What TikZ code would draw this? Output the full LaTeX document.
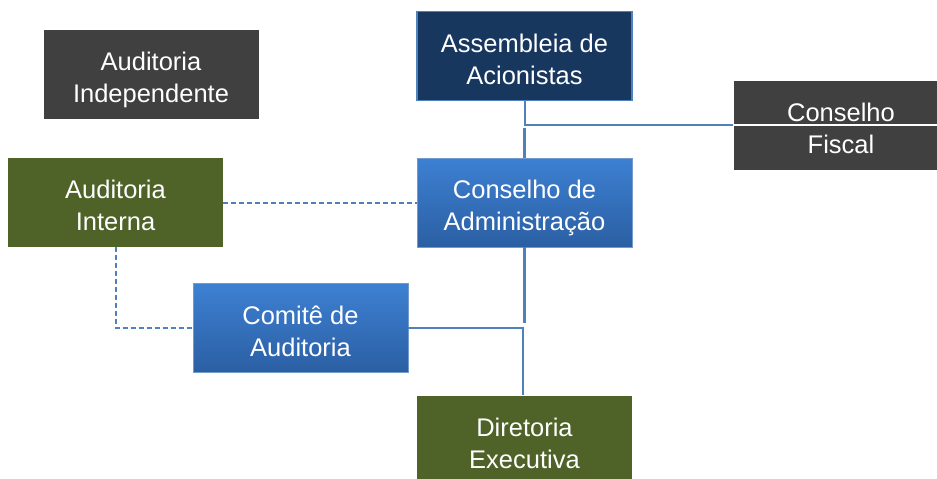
\documentclass[tikz,border=0pt]{standalone}
\usepackage{fontspec}
\setmainfont{Liberation Sans}
\usepackage{tikz}
\usetikzlibrary{calc}
\definecolor{boxgray}{HTML}{404040}
\definecolor{boxnavy}{HTML}{17375E}
\definecolor{boxolive}{HTML}{4F6228}
\definecolor{boxbluetop}{HTML}{3D80D2}
\definecolor{boxbluebot}{HTML}{2B5FA3}
\definecolor{linkblue}{HTML}{4F81BD}
\tikzset{
  orgbase/.style={rectangle,text=white,align=center,minimum width=215pt,minimum height=89pt,
    inner sep=0pt,text height=62pt,text depth=6pt,font=\fontsize{25.5}{32}\selectfont},
  graybox/.style={orgbase,fill=boxgray},
  navybox/.style={orgbase,fill=boxnavy,draw=linkblue,line width=1.5pt},
  olivebox/.style={orgbase,fill=boxolive},
  bluebox/.style={orgbase,top color=boxbluetop,bottom color=boxbluebot,draw=linkblue!80,line width=0.8pt},
  link/.style={draw=linkblue,line width=1.5pt},
  dashlink/.style={draw=linkblue,line width=2pt,dash pattern=on 5pt off 3pt}
}
\newcommand{\orgbox}[5]{\node[#2] (#1) at ( #3 , #4 ) {#5};}

\begin{document}
\begin{tikzpicture}[x=1pt,y=-1pt]
            \useasboundingbox (0,0) rectangle (937,479);
            % top row
            \orgbox{indep}{graybox}{151}{74}{Auditoria\\Independente}
            \orgbox{asm}{navybox}{524.5}{56}{Assembleia de\\Acionistas}
            \orgbox{fiscal}{graybox}{841}{125}{Conselho\\Fiscal}

            % middle row
            \orgbox{interna}{olivebox}{115.5}{202.5}{Auditoria\\Interna}
            \orgbox{adm}{bluebox}{524.5}{202.5}{Conselho de\\Administração}
            \orgbox{comite}{bluebox}{300.5}{328}{Comitê de\\Auditoria}

            % bottom
            \orgbox{dir}{olivebox}{524.5}{440}{Diretoria\\Executiva}

            % links
            \draw[link] ($(asm.south)+(0.5,0)$) |- (fiscal.west);
            \draw[white,line width=1.2pt] (fiscal.west) -- (fiscal.east);
            \draw[link,line width=3pt] (asm.south) ++(0,27) -- (adm.north);
            \draw[dashlink] (interna.east) -- (adm.west);
            \draw[dashlink] (interna.south) |- (comite.west);
            \draw[link,line width=3pt] (adm.south) -- ++(0,76);
            \draw[link] (comite.east) -| ($(dir.north)+(-1.5,0)$);
        \end{tikzpicture}
\end{document}
